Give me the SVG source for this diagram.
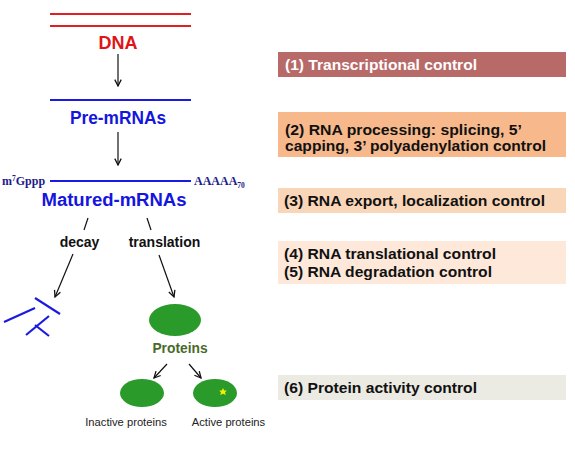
<svg xmlns="http://www.w3.org/2000/svg" width="575" height="452" viewBox="0 0 575 452">
<defs>
<marker id="ah" viewBox="0 0 10 10" refX="9" refY="5" markerWidth="8" markerHeight="8" markerUnits="userSpaceOnUse" orient="auto">
<path d="M1,1 L9,5 L1,9" fill="none" stroke="#111" stroke-width="1.6"/>
</marker>
<style>
.lbl{font-family:"Liberation Sans",Arial,sans-serif;font-weight:bold}
.big{font-size:18px;text-anchor:middle}
.box{font-family:"Liberation Sans",Arial,sans-serif;font-weight:bold;font-size:15.5px;fill:#111}
.conn{stroke:#111;stroke-width:1.2;fill:none}
.arr{stroke:#111;stroke-width:1.2;fill:none;marker-end:url(#ah)}
.blue{stroke:#1a1ae0;stroke-width:2.2}
.serif{font-family:"Liberation Serif","Times New Roman",serif;font-weight:bold;fill:#1c1c8a;font-size:12px}
.small{font-family:"Liberation Sans",Arial,sans-serif;font-size:11.2px;fill:#222;text-anchor:middle}
</style>
</defs>
<rect width="575" height="452" fill="#fff"/>

<g id="dna">
<line x1="50" y1="14" x2="191" y2="14" stroke="#e02020" stroke-width="2"/>
<line x1="50" y1="26" x2="191" y2="26" stroke="#e02020" stroke-width="2"/>
<text class="lbl big" x="118" y="49" fill="#e01515">DNA</text>
</g>

<g id="pre-mrnas">
<line x1="50" y1="100" x2="191" y2="100" class="blue"/>
<text class="lbl big" x="118" y="124" fill="#1515e0" textLength="96" lengthAdjust="spacingAndGlyphs">Pre-mRNAs</text>
</g>

<g id="matured-mrnas">
<line x1="50" y1="181" x2="191" y2="181" class="blue"/>
<text class="serif" x="2" y="185">m<tspan font-size="7.5" dy="-4">7</tspan><tspan dy="4">Gppp</tspan></text>
<text class="serif" x="194" y="185">AAAAA<tspan font-size="7.5" dy="3">70</tspan></text>
<text class="lbl big" x="114" y="206" fill="#1515e0" textLength="145" lengthAdjust="spacingAndGlyphs">Matured-mRNAs</text>
</g>

<g id="decay-label"><text class="lbl" x="79.5" y="247" font-size="14" text-anchor="middle" fill="#111">decay</text></g>
<g id="translation-label"><text class="lbl" x="164.5" y="247" font-size="14" text-anchor="middle" fill="#111">translation</text></g>

<g id="fragments">
<line x1="35" y1="298" x2="60" y2="314" class="blue"/>
<line x1="4" y1="322" x2="35" y2="308" class="blue"/>
<line x1="26" y1="335" x2="49" y2="316" class="blue"/>
<line x1="35" y1="325" x2="49" y2="336" class="blue"/>
</g>

<g id="proteins">
<ellipse cx="175" cy="320" rx="26" ry="16" fill="#2a9a2a"/>
<text class="lbl" x="180" y="353" font-size="13.8" text-anchor="middle" fill="#4a6a2a">Proteins</text>
</g>

<g id="inactive-proteins">
<ellipse cx="142" cy="393" rx="22" ry="14" fill="#2a9a2a"/>
<text class="small" x="126" y="426">Inactive proteins</text>
</g>

<g id="active-proteins">
<ellipse cx="215" cy="393" rx="22" ry="14" fill="#2a9a2a"/>
<polygon points="223,388 224.2,390.5 226.8,390.5 225,392.5 225.8,395 223,393.7 220.2,395 221,392.5 219.2,390.5 221.8,390.5" fill="#f0f000"/>
<text class="small" x="228.5" y="426">Active proteins</text>
</g>

<g id="connectors">
<line x1="118" y1="54" x2="118" y2="86" class="arr"/>
<line x1="118" y1="132" x2="118" y2="165" class="arr"/>
<line x1="88" y1="218" x2="84" y2="230" class="conn"/>
<line x1="147" y1="218" x2="151" y2="230" class="conn"/>
<line x1="73" y1="254" x2="55" y2="297" class="arr"/>
<line x1="159" y1="255" x2="174" y2="297" class="arr"/>
<line x1="167" y1="364" x2="154" y2="378" class="arr"/>
<line x1="189" y1="364" x2="201" y2="378" class="arr"/>
</g>

<g id="control-1">
<rect x="278" y="52" width="288" height="25" fill="#b76a68"/>
<text class="box" x="285" y="70" style="fill:#fff" textLength="192" lengthAdjust="spacingAndGlyphs">(1) Transcriptional control</text>
</g>
<g id="control-2">
<rect x="278" y="112" width="288" height="45" fill="#f7b98c"/>
<text class="box" x="285" y="135" textLength="237" lengthAdjust="spacingAndGlyphs">(2) RNA processing: splicing, 5’</text>
<text class="box" x="285" y="151" textLength="261" lengthAdjust="spacingAndGlyphs">capping, 3’ polyadenylation control</text>
</g>
<g id="control-3">
<rect x="278" y="188" width="288" height="25" fill="#fad6b9"/>
<text class="box" x="284" y="206" textLength="261" lengthAdjust="spacingAndGlyphs">(3) RNA export, localization control</text>
</g>
<g id="control-4-5">
<rect x="278" y="241" width="288" height="43" fill="#fde8da"/>
<text class="box" x="284" y="259" textLength="212" lengthAdjust="spacingAndGlyphs">(4) RNA translational control</text>
<text class="box" x="284" y="277" textLength="208" lengthAdjust="spacingAndGlyphs">(5) RNA degradation control</text>
</g>
<g id="control-6">
<rect x="278" y="375" width="288" height="25" fill="#ebebe3"/>
<text class="box" x="284" y="393" textLength="193" lengthAdjust="spacingAndGlyphs">(6) Protein activity control</text>
</g>
</svg>
